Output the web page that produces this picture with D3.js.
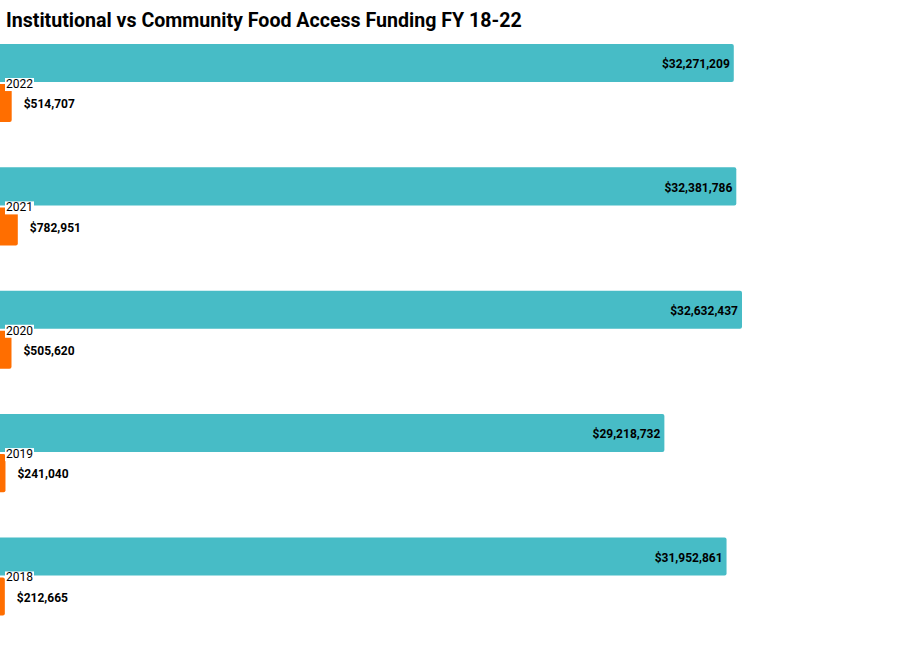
<!DOCTYPE html>
<html>
<head>
<meta charset="utf-8">
<script src="https://d3js.org/d3.v7.min.js"></script>
<style>
  body { margin: 0; background: #fff; font-family: Roboto, "Noto Sans", sans-serif; }
</style>
</head>
<body>
<div id="my_dataviz"></div>
<script>

// data
var years = ["2022", "2021", "2020", "2019", "2018"];
var institutional = [32271209, 32381786, 32632437, 29218732, 31952861];
var community = [514707, 782951, 505620, 241040, 212665];
var series = ["institutional", "community"];

var width = 909, height = 659;

var svg = d3.select("#my_dataviz")
  .append("svg")
    .attr("width", width)
    .attr("height", height);

svg.append("text")
    .attr("x", 6)
    .attr("y", 27)
    .style("font-size", "19.6px")
    .style("font-weight", "bold")
    .attr("fill", "#000")
    .text("Institutional vs Community Food Access Funding FY 18-22");

// scales
var y0 = d3.scaleBand()
    .domain(years)
    .range([44, 615.5])
    .paddingInner(0.367)
    .paddingOuter(0);

var y1 = d3.scaleBand()
    .domain(series)
    .range([0, y0.bandwidth()])
    .paddingInner(0.05);

var x = d3.scaleLinear()
    .domain([0, 32632437])
    .range([0, 742]);

var color = d3.scaleOrdinal()
    .domain(series)
    .range(["#47bcc6", "#ff6e00"]);

var fmt = function(v) { return "$" + d3.format(",")(v); };

var rows = years.map(function(yr, i) {
  return { year: yr, institutional: institutional[i], community: community[i] };
});

var groups = svg.append("g")
  .selectAll("g")
  .data(rows)
  .enter().append("g")
    .attr("transform", function(d) { return "translate(0," + y0(d.year) + ")"; });

groups.selectAll("rect")
  .data(function(d) { return series.map(function(k) { return { key: k, value: d[k] }; }); })
  .enter().append("rect")
    .attr("x", -3)
    .attr("y", function(d) { return y1(d.key); })
    .attr("width", function(d) { return x(d.value) + 3; })
    .attr("height", y1.bandwidth())
    .attr("rx", 2)
    .attr("fill", function(d) { return color(d.key); });

// value labels
groups.append("text")
    .attr("x", function(d) { return x(d.institutional) - 4; })
    .attr("y", y1("institutional") + y1.bandwidth() / 2 + 1)
    .attr("dy", "0.35em")
    .attr("text-anchor", "end")
    .style("font-size", "12px")
    .style("font-weight", "bold")
    .text(function(d) { return fmt(d.institutional); });

groups.append("text")
    .attr("x", function(d) { return x(d.community) + 12; })
    .attr("y", y1("community") + y1.bandwidth() / 2 + 1)
    .attr("dy", "0.35em")
    .style("font-size", "12px")
    .style("font-weight", "bold")
    .text(function(d) { return fmt(d.community); });

// year labels with white box
var yl = groups.append("g")
    .attr("transform", "translate(6," + (y1("community") + 4) + ")");
yl.append("rect")
    .attr("x", -1)
    .attr("y", -10)
    .attr("width", 29)
    .attr("height", 13)
    .attr("fill", "#fff");
yl.append("text")
    .style("font-size", "12px")
    .attr("fill", "#000")
    .text(function(d) { return d.year; });

</script>
</body>
</html>
